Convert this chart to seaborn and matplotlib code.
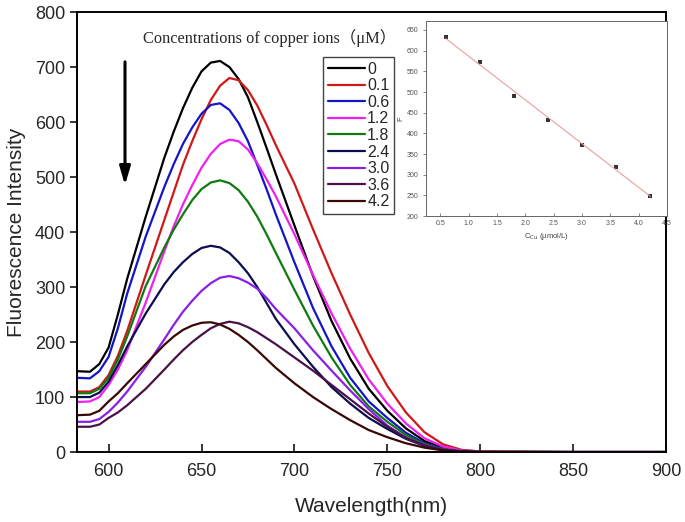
import numpy as np
import pandas as pd
import matplotlib
matplotlib.use("Agg")
import matplotlib.pyplot as plt
import seaborn as sns

sns.set_style("ticks")
plt.rcParams['font.family'] = ['Liberation Sans', 'DejaVu Sans']

# --------------------------------
# Data
# --------------------------------
wavelength = [583, 590, 595, 600, 605, 610, 620, 630, 635, 640, 645, 650, 655, 660, 665,
              670, 675, 680, 685, 690, 700, 710, 720, 730, 740, 750, 760, 770, 780,
              790, 800, 850, 900]

conc_labels = ['0', '0.1', '0.6', '1.2', '1.8', '2.4', '3.0', '3.6', '4.2']

f_0   = [147, 146, 160, 190, 250, 315, 428, 535, 582, 625, 662, 692, 708, 711, 700,
         678, 645, 600, 553, 505, 412, 320, 238, 170, 115, 75, 43, 20, 8, 3, 1, 0, 0]
f_0_1 = [110, 110, 118, 140, 175, 220, 322, 422, 472, 522, 565, 605, 640, 666, 680,
         676, 658, 630, 595, 558, 488, 405, 325, 250, 180, 120, 72, 36, 14, 4, 1, 0, 0]
f_0_6 = [135, 134, 147, 173, 225, 288, 392, 482, 523, 560, 590, 615, 631, 634, 622,
         598, 565, 522, 478, 432, 345, 262, 192, 135, 92, 62, 35, 16, 6, 2, 0, 0, 0]
f_1_2 = [91, 92, 100, 122, 150, 185, 272, 365, 410, 450, 485, 517, 542, 560, 568,
         565, 550, 525, 496, 465, 396, 322, 252, 188, 132, 88, 52, 25, 10, 3, 0, 0, 0]
f_1_8 = [107, 107, 115, 135, 168, 210, 302, 372, 404, 432, 458, 478, 490, 494, 489,
         476, 455, 428, 396, 362, 295, 230, 172, 122, 83, 55, 31, 14, 5, 2, 0, 0, 0]
f_2_4 = [100, 100, 108, 128, 158, 192, 252, 305, 327, 345, 360, 371, 375, 372, 362,
         345, 325, 300, 271, 242, 196, 155, 118, 88, 62, 42, 24, 11, 4, 1, 0, 0, 0]
f_3_0 = [55, 55, 60, 73, 90, 110, 155, 205, 231, 255, 275, 293, 307, 317, 320,
         316, 308, 297, 280, 260, 225, 185, 148, 112, 78, 48, 26, 12, 4, 1, 0, 0, 0]
f_3_6 = [46, 46, 50, 62, 72, 85, 115, 150, 168, 185, 200, 213, 225, 233, 237,
         234, 227, 218, 207, 196, 172, 148, 122, 96, 70, 46, 26, 12, 4, 1, 0, 0, 0]
f_4_2 = [67, 68, 75, 92, 107, 125, 160, 195, 210, 222, 230, 235, 236, 232, 224,
         213, 200, 185, 169, 153, 125, 100, 78, 58, 40, 27, 16, 8, 3, 1, 0, 0, 0]

spectra = [f_0, f_0_1, f_0_6, f_1_2, f_1_8, f_2_4, f_3_0, f_3_6, f_4_2]
line_colors = ['#000000', '#d01818', '#1414c8', '#f020f0', '#107a10',
               '#0c0c50', '#8a1ee6', '#4a1048', '#3a0606']

# inset: calibration points
cu_conc = [0.6, 1.2, 1.8, 2.4, 3.0, 3.6, 4.2]
f_peak = [633, 573, 491, 432, 373, 319, 249]

rows = []
for lab, vals in zip(conc_labels, spectra):
    for w, v in zip(wavelength, vals):
        rows.append({'Wavelength': w, 'F': v, 'Cu': lab})
df = pd.DataFrame(rows)
df_cal = pd.DataFrame({'C': cu_conc, 'F': f_peak})

# --------------------------------
# Main plot
# --------------------------------
fig = plt.figure(figsize=(6.85, 5.22), dpi=100)
ax = fig.add_axes([0.1124, 0.134, 0.860, 0.843])

sns.lineplot(data=df, x='Wavelength', y='F', hue='Cu', hue_order=conc_labels,
             palette=line_colors, linewidth=1.6, ax=ax)

ax.set_xlim(583, 900)
ax.set_ylim(0, 800)
ax.set_xticks([600, 650, 700, 750, 800, 850, 900])
ax.set_yticks(range(0, 801, 100))
ax.tick_params(axis='x', direction='in', length=6, width=1.3, labelsize=13, pad=8)
ax.tick_params(axis='y', direction='out', length=5, width=1.3, labelsize=13)
for s in ax.spines.values():
    s.set_linewidth(1.4)
    s.set_color('black')
ax.set_xlabel('Wavelength(nm)', fontsize=15, labelpad=12)
ax.set_ylabel('Fluorescence Intensity', fontsize=15, labelpad=6)

ax.legend(loc='upper left', bbox_to_anchor=(0.418, 0.898), fontsize=11.5,
          handlelength=2.3, handletextpad=0.15, labelspacing=0.1,
          borderpad=0.3, borderaxespad=0, frameon=True, fancybox=False,
          edgecolor='#444444', framealpha=1)

ax.text(0.112, 0.941, 'Concentrations of copper ions（μM）', transform=ax.transAxes,
        fontsize=11.8, va='center', ha='left',
        family=['Liberation Serif', 'Noto Sans CJK SC', 'DejaVu Serif'])

ax.annotate('', xy=(0.0815, 0.6), xytext=(0.0815, 0.893),
            xycoords='axes fraction', textcoords='axes fraction',
            arrowprops=dict(arrowstyle='-|>,head_width=0.32,head_length=1.1',
                            color='black', lw=2.2))

# --------------------------------
# Inset
# --------------------------------
axin = fig.add_axes([0.622, 0.586, 0.352, 0.374])
sns.regplot(data=df_cal, x='C', y='F', ci=None, ax=axin, truncate=True,
            marker='s', scatter_kws=dict(color='black', s=9, linewidths=0),
            line_kws=dict(color='#e8a0a0', lw=0.8))
axin.set_xlim(0.25, 4.5)
axin.set_ylim(200, 672)
axin.set_xticks(np.arange(0.5, 4.51, 0.5))
axin.set_yticks(range(200, 651, 50))
axin.tick_params(axis='x', direction='in', length=2, width=0.5, labelsize=5, pad=3,
                 colors='#555555')
axin.tick_params(axis='y', direction='out', length=2, width=0.5, labelsize=5,
                 colors='#555555')
for s in axin.spines.values():
    s.set_linewidth(0.7)
    s.set_color('#666666')
axin.set_xlabel(r'C$_{\mathrm{Cu}}$ (μmol/L)', fontsize=5.5, color='#444444', labelpad=3)
axin.set_ylabel('F', fontsize=5.5, color='#444444', labelpad=2)

plt.savefig('out.png', dpi=100)
